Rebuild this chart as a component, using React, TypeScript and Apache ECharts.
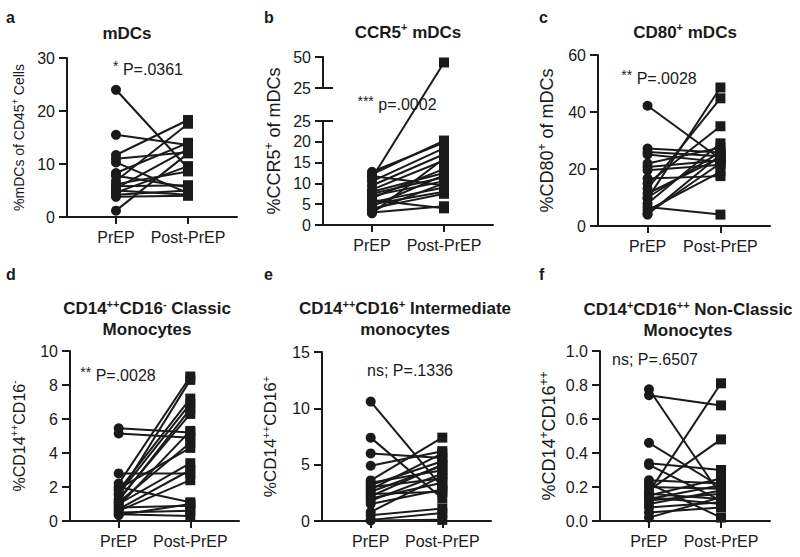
import React, { useEffect, useRef } from 'react';
import * as echarts from 'echarts';

// ---------- data ----------
const groups = ['PrEP', 'Post-PrEP'];

const mdcPrep = [24.0, 15.5, 11.7, 11.0, 10.3, 8.3, 7.8, 6.8, 6.2, 5.8, 5.4, 5.0, 4.6, 4.2, 3.8, 1.2];
const mdcPost = [9.2, 13.6, 18.3, 12.2, 4.5, 14.0, 5.6, 17.6, 8.6, 6.0, 12.8, 4.2, 9.6, 5.0, 4.0, 12.0];

const ccr5Prep = [11.3, 12.8, 12.2, 11.8, 10.5, 9.5, 8.5, 8.0, 7.5, 7.0, 6.5, 6.0, 5.5, 5.0, 4.5, 4.0, 3.5, 3.0, 2.8];
const ccr5Post = [45.6, 19.8, 20.3, 9.5, 18.5, 17.0, 15.5, 12.5, 11.5, 10.5, 13.5, 4.0, 9.0, 8.0, 12.0, 7.5, 10.0, 4.5, 16.0];

const cd80Prep = [42.2, 27.2, 26.0, 25.1, 21.9, 20.7, 19.6, 16.7, 14.9, 13.1, 11.4, 9.6, 7.9, 6.7, 5.5, 4.4, 10.0, 4.0];
const cd80Post = [23.5, 25.8, 24.5, 22.5, 27.5, 23.0, 21.5, 17.5, 35.0, 44.8, 24.0, 48.6, 29.0, 4.0, 19.0, 22.0, 26.0, 25.0];

const classicPrep = [5.45, 5.15, 2.8, 2.2, 2.0, 1.8, 1.6, 1.5, 1.3, 1.2, 1.1, 1.0, 0.9, 0.8, 0.7, 0.6, 0.5, 0.4, 0.35, 1.9];
const classicPost = [5.2, 4.9, 2.8, 8.5, 1.1, 7.2, 6.9, 8.3, 6.3, 6.6, 4.6, 3.4, 5.3, 0.9, 3.0, 2.4, 0.6, 0.3, 1.0, 4.3];

const interPrep = [10.6, 7.4, 6.0, 4.9, 3.6, 3.4, 3.2, 3.0, 2.8, 2.6, 2.4, 2.2, 2.0, 1.8, 1.5, 0.8, 0.5, 0.1, 0.05];
const interPost = [3.0, 2.0, 5.6, 6.2, 7.4, 4.5, 5.3, 3.8, 6.0, 4.9, 2.6, 5.0, 3.4, 4.2, 2.8, 4.0, 1.1, 0.7, 0.1];

const nonClassicPrep = [0.775, 0.74, 0.46, 0.34, 0.33, 0.24, 0.22, 0.2, 0.18, 0.17, 0.16, 0.15, 0.14, 0.13, 0.12, 0.1, 0.08, 0.05, 0.02];
const nonClassicPost = [0.15, 0.68, 0.2, 0.3, 0.12, 0.22, 0.02, 0.19, 0.48, 0.81, 0.13, 0.25, 0.1, 0.21, 0.16, 0.18, 0.11, 0.08, 0.14];

// ---------- styling / layout ----------
const FF = '"Liberation Sans", Arial, Helvetica, sans-serif';
const INK = '#1a1a1a';
const X_MIN = -0.68;
const X_MAX = 1.68;

// broken axis of panel b
const B_LEFT = 323;
const B_WIDTH = 170;
const B_TOP = 57;
const B_UP_H = 31;
const B_LOW_TOP = 121;
const B_LOW_H = 104;
const B_TOTAL_H = B_LOW_TOP + B_LOW_H - B_TOP;
const B_GAP = B_TOTAL_H - B_LOW_H - B_UP_H;
const B_BREAK = 25;
const B_MAX = 50;
const bMap = (v: number) =>
  v <= B_BREAK
    ? (v * B_LOW_H) / B_BREAK
    : B_LOW_H + B_GAP + ((v - B_BREAK) * B_UP_H) / (B_MAX - B_BREAK);

const grids = [
  { left: 67, top: 58, width: 170, height: 159 }, // 0 a
  { left: B_LEFT, top: B_TOP, width: B_WIDTH, height: B_UP_H }, // 1 b upper
  { left: B_LEFT, top: B_LOW_TOP, width: B_WIDTH, height: B_LOW_H }, // 2 b lower
  { left: B_LEFT, top: B_TOP, width: B_WIDTH, height: B_TOTAL_H }, // 3 b data
  { left: 598, top: 55, width: 172, height: 171 }, // 4 c
  { left: 70, top: 351, width: 169, height: 170 }, // 5 d
  { left: 322, top: 352, width: 169, height: 169 }, // 6 e
  { left: 600, top: 351, width: 170, height: 170 }, // 7 f
];

function nameStyle(size: number) {
  const sup = Math.round(size * 0.65);
  return {
    fontSize: size,
    fontFamily: FF,
    color: INK,
    lineHeight: size + 4,
    rich: {
      s: { fontSize: sup, fontFamily: FF, color: INK, verticalAlign: 'top', lineHeight: sup },
    },
  };
}

function xAxisFor(gi: number, visible = true) {
  return {
    type: 'value',
    gridIndex: gi,
    min: X_MIN,
    max: X_MAX,
    show: visible,
    splitLine: { show: false },
    axisLine: { show: true, onZero: false, lineStyle: { color: INK, width: 2 } },
    axisTick: { show: true, customValues: [0, 1], length: 7, lineStyle: { color: INK, width: 2 } },
    axisLabel: {
      show: true,
      customValues: [0, 1],
      formatter: (v: number) => groups[Math.round(v)],
      fontSize: 16,
      fontFamily: FF,
      color: INK,
      margin: 12,
    },
  };
}

function yAxisFor(
  gi: number,
  min: number,
  max: number,
  interval: number,
  name: string,
  nameGap: number,
  nameSize: number,
  fmt?: (v: number) => string
) {
  return {
    type: 'value',
    gridIndex: gi,
    min,
    max,
    interval,
    splitLine: { show: false },
    axisLine: { show: true, onZero: false, lineStyle: { color: INK, width: 2 } },
    axisTick: { show: true, length: 8, lineStyle: { color: INK, width: 2 } },
    axisLabel: { fontSize: 16, fontFamily: FF, color: INK, margin: 12, formatter: fmt },
    name,
    nameLocation: 'middle',
    nameGap,
    nameRotate: 90,
    nameTextStyle: nameStyle(nameSize),
  };
}

function pairs(pre: number[], post: number[], gi: number, map: (v: number) => number = (v) => v) {
  return pre.map((p, i) => ({
    type: 'line',
    xAxisIndex: gi,
    yAxisIndex: gi,
    data: [
      [0, map(p)],
      [1, map(post[i])],
    ],
    symbol: (val: number[]) => (val[0] === 0 ? 'circle' : 'rect'),
    symbolSize: (val: number[]) => (val[0] === 0 ? 10 : 10),
    showSymbol: true,
    lineStyle: { color: INK, width: 2 },
    itemStyle: { color: INK, opacity: 1 },
    emphasis: { disabled: true },
    silent: true,
    z: 3,
  }));
}

function gText(x: number, y: number, text: string, size: number, bold: boolean, align = 'center') {
  const w = bold ? 'bold' : 'normal';
  const sup = Math.round(size * 0.65);
  return {
    type: 'text',
    x,
    y,
    silent: true,
    style: {
      text,
      fill: INK,
      fontSize: size,
      fontFamily: FF,
      fontWeight: w,
      align,
      verticalAlign: 'middle',
      lineHeight: size + 4,
      rich: {
        s: { fontSize: sup, fontFamily: FF, fontWeight: w, fill: INK, verticalAlign: 'top', lineHeight: sup },
        a: { fontSize: 14, fontFamily: FF, fontWeight: w, fill: INK, verticalAlign: 'top', lineHeight: 12 },
      },
    },
  };
}

function capLine(x1: number, y: number, x2: number) {
  return {
    type: 'line',
    silent: true,
    shape: { x1, y1: y, x2, y2: y },
    style: { stroke: INK, lineWidth: 2 },
  };
}

const option = {
  animation: false,
  backgroundColor: '#ffffff',
  textStyle: { fontFamily: FF },
  grid: grids.map((g) => ({ ...g, containLabel: false, outerBoundsMode: 'none' })),
  xAxis: [
    xAxisFor(0),
    xAxisFor(1, false),
    xAxisFor(2),
    xAxisFor(3, false),
    xAxisFor(4),
    xAxisFor(5),
    xAxisFor(6),
    xAxisFor(7),
  ],
  yAxis: [
    yAxisFor(0, 0, 30, 10, '%mDCs of CD45{s|+} Cells', 39, 14),
    { ...yAxisFor(1, 25, 50, 25, '', 0, 16), name: '' },
    { ...yAxisFor(2, 0, 25, 5, '', 0, 16), name: '' },
    {
      type: 'value',
      gridIndex: 3,
      min: 0,
      max: B_TOTAL_H,
      splitLine: { show: false },
      axisLine: { show: false },
      axisTick: { show: false },
      axisLabel: { show: false },
      name: '%CCR5{s|+} of mDCs',
      nameLocation: 'middle',
      nameGap: 38,
      nameRotate: 90,
      nameTextStyle: nameStyle(18),
    },
    yAxisFor(4, 0, 60, 20, '%CD80{s|+} of mDCs', 40, 18),
    yAxisFor(5, 0, 10, 2, '%CD14{s|++}CD16{s|-}', 41, 16),
    yAxisFor(6, 0, 15, 5, '%CD14{s|++}CD16{s|+}', 41, 17),
    yAxisFor(7, 0, 1, 0.2, '%CD14{s|+}CD16{s|++}', 40, 18, (v: number) => v.toFixed(1)),
  ],
  series: [
    ...pairs(mdcPrep, mdcPost, 0),
    ...pairs(ccr5Prep, ccr5Post, 3, bMap),
    ...pairs(cd80Prep, cd80Post, 4),
    ...pairs(classicPrep, classicPost, 5),
    ...pairs(interPrep, interPost, 6),
    ...pairs(nonClassicPrep, nonClassicPost, 7),
  ],
  graphic: [
    // panel letters
    gText(6, 17, 'a', 16, true, 'left'),
    gText(264, 17, 'b', 16, true, 'left'),
    gText(539, 17, 'c', 16, true, 'left'),
    gText(6, 274, 'd', 16, true, 'left'),
    gText(264, 274, 'e', 16, true, 'left'),
    gText(539, 274, 'f', 16, true, 'left'),
    // titles
    gText(127, 33, 'mDCs', 17, true),
    gText(408, 32, 'CCR5{s|+} mDCs', 17, true),
    gText(685, 32, 'CD80{s|+} mDCs', 17, true),
    gText(147, 319, 'CD14{s|++}CD16{s|-} Classic\nMonocytes', 17, true),
    gText(405, 319, 'CD14{s|++}CD16{s|+} Intermediate\nmonocytes', 17, true),
    gText(688, 320, 'CD14{s|+}CD16{s|++} Non-Classic\nMonocytes', 17, true),
    // statistics
    gText(148, 69, '{a|*} P=.0361', 16, false),
    gText(397, 104, '{a|***} p=.0002', 16, false),
    gText(659, 78, '{a|**} P=.0028', 16, false),
    gText(118, 375, '{a|**} P=.0028', 16, false),
    gText(410, 370, 'ns; P=.1336', 16, false),
    gText(655, 359, 'ns; P=.6507', 16, false),
    // axis break caps (panel b)
    capLine(B_LEFT, B_TOP + B_UP_H, B_LEFT + 10),
    capLine(B_LEFT, B_LOW_TOP, B_LEFT + 10),
  ],
};

export default function App() {
  const ref = useRef<HTMLDivElement>(null);
  useEffect(() => {
    if (!ref.current) return;
    const chart = echarts.init(ref.current, undefined, { renderer: 'svg' });
    chart.setOption(option as any);
    return () => chart.dispose();
  }, []);
  return (
    <div
      ref={ref}
      style={{ position: 'absolute', left: 0, top: 0, width: 800, height: 557, background: '#fff' }}
    />
  );
}
